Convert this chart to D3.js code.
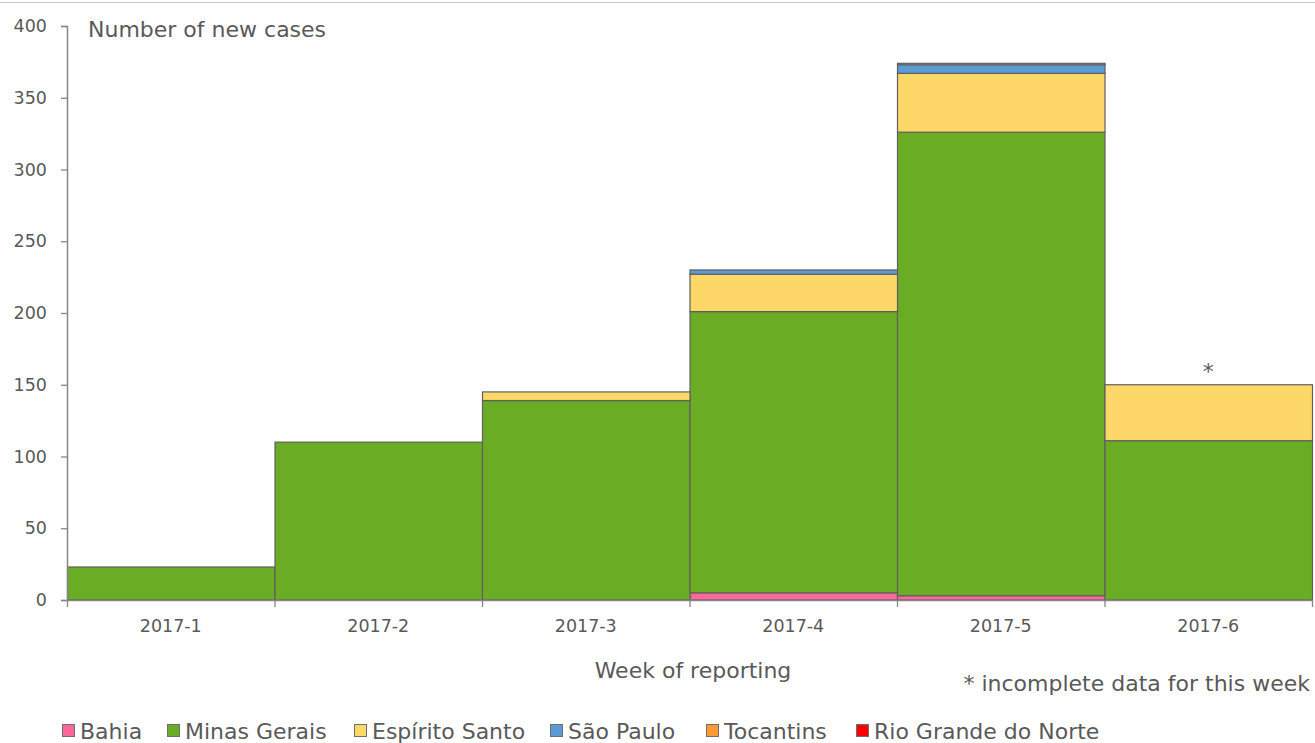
<!DOCTYPE html>
<html><head><meta charset="utf-8">
<script src="https://cdn.jsdelivr.net/npm/d3@7"></script>
<style>
html,body{margin:0;padding:0;background:#fff;}
svg{display:block;font-family:"DejaVu Sans",Verdana,sans-serif;}
</style></head>
<body>
<svg id="chart" width="1315" height="743"></svg>
<script>
const weeks = ["2017-1","2017-2","2017-3","2017-4","2017-5","2017-6"];
const seriesNames = ["Bahia","Minas Gerais","Espírito Santo","São Paulo","Tocantins","Rio Grande do Norte"];
const seriesColors = ["#FF6699","#6AAD24","#FDD868","#5B9BD5","#FF9933","#FF0000"];
const bahia = [0,0,0,5,3,0];
const minasGerais = [23,110,139,196,323,111];
const espiritoSanto = [0,0,6,26,41,39];
const saoPaulo = [0,0,0,3,6,0];
const tocantins = [0,0,0,0,1,0];
const rioGrandeDoNorte = [0,0,0,0,0,0];
const yTicks = [0,50,100,150,200,250,300,350,400];
const incompleteWeek = "2017-6";

const seriesValues = [bahia,minasGerais,espiritoSanto,saoPaulo,tocantins,rioGrandeDoNorte];
const table = weeks.map((w,i)=>{const o={week:w};seriesNames.forEach((s,j)=>o[s]=seriesValues[j][i]);return o;});
const stacked = d3.stack().keys(seriesNames)(table);

const svg = d3.select("#chart");
const textColor = "#595959";
const axisColor = "#868686";

svg.append("line").attr("x1",0).attr("x2",1315).attr("y1",2.5).attr("y2",2.5).attr("stroke","#c8c8c8").attr("stroke-width",1);

const x = d3.scaleBand().domain(weeks).range([67,1312]).padding(0);
const y = d3.scaleLinear().domain([0,400]).range([600,26]);

svg.append("g").selectAll("g").data(stacked).join("g")
  .attr("fill",(d,i)=>seriesColors[i])
  .selectAll("rect").data(d=>d.filter(p=>p[1]-p[0]>0)).join("rect")
  .attr("x",d=>x(d.data.week)+0.5)
  .attr("width",x.bandwidth())
  .attr("y",d=>y(d[1]))
  .attr("height",d=>y(d[0])-y(d[1]))
  .attr("stroke","#5f5f5f").attr("stroke-width",1.2);

const yAxis = svg.append("g").attr("transform","translate(67,0)")
  .call(d3.axisLeft(y).tickValues(yTicks).tickSize(6).tickPadding(14).tickFormat(d3.format("d")));
yAxis.select(".domain").attr("stroke",axisColor).attr("stroke-width",1.5);
yAxis.selectAll(".tick line").attr("stroke",axisColor).attr("stroke-width",1.3);
yAxis.selectAll("text").attr("fill",textColor).style("font-size","17.5px").style("font-family","DejaVu Sans");

const xAxis = svg.append("g").attr("transform","translate(0,600)")
  .call(d3.axisBottom(x).tickSize(0).tickPadding(20).tickSizeOuter(0));
xAxis.select(".domain").attr("stroke",axisColor).attr("stroke-width",1.5);
xAxis.selectAll("text").attr("fill",textColor).style("font-size","17.5px").style("font-family","DejaVu Sans");
const bounds = weeks.map(w=>x(w)).concat([x(weeks[weeks.length-1])+x.bandwidth()]);
svg.append("g").selectAll("line").data(bounds).join("line")
  .attr("x1",d=>d+0.5).attr("x2",d=>d+0.5).attr("y1",600).attr("y2",607)
  .attr("stroke",axisColor).attr("stroke-width",1.3);

svg.append("text").attr("x",88).attr("y",37).attr("fill",textColor)
  .style("font-size","22px").text("Number of new cases");
svg.append("text").attr("x",693).attr("y",678).attr("text-anchor","middle").attr("fill",textColor)
  .style("font-size","22px").text("Week of reporting");
svg.append("text").attr("x",1310).attr("y",691).attr("text-anchor","end").attr("fill",textColor)
  .style("font-size","22px").text("* incomplete data for this week");

const incTotal = d3.sum(seriesValues, s=>s[weeks.indexOf(incompleteWeek)]);
svg.append("text").attr("x",x(incompleteWeek)+x.bandwidth()/2).attr("y",y(incTotal)-6)
  .attr("text-anchor","middle").attr("fill",textColor).style("font-size","22px").text("*");

const legendX = [62,167,354,550,706,856];
const lg = svg.append("g").selectAll("g").data(seriesNames).join("g")
  .attr("transform",(d,i)=>`translate(${legendX[i]},724)`);
lg.append("rect").attr("x",0.5).attr("y",0.5).attr("width",12).attr("height",12)
  .attr("fill",(d,i)=>seriesColors[i]).attr("stroke","#6f6f6f").attr("stroke-width",1);
lg.append("text").attr("x",18).attr("y",15).attr("fill",textColor).style("font-size","22px").text(d=>d);
</script>
</body></html>
